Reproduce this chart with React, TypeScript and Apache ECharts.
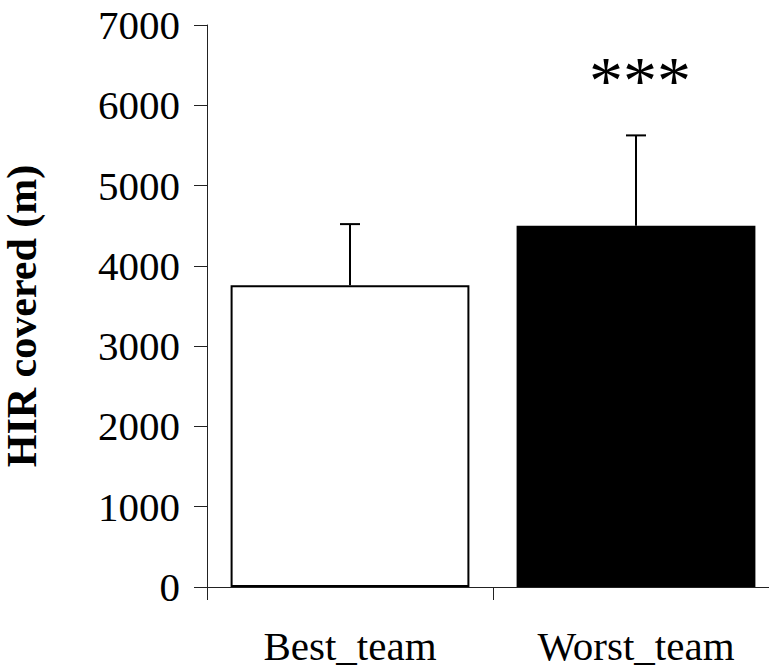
import React, { useEffect, useRef } from "react";
import * as echarts from "echarts";

const categories = ["Best_team", "Worst_team"];
const means = [3760, 4500];
const sds = [760, 1125];
const significance = ["", "***"];
const yTicks = { min: 0, max: 7000, interval: 1000 };
const yAxisTitle = "HIR covered (m)";

const FONT = "Liberation Serif";

export default function App() {
  const ref = useRef<HTMLDivElement>(null);
  useEffect(() => {
    if (!ref.current) return;
    const chart = echarts.init(ref.current, null, { renderer: "svg" });
    const errData = categories.map((c, i) => [i, means[i], means[i] + sds[i]]);
    chart.setOption({
      animation: false,
      backgroundColor: "#ffffff",
      textStyle: { fontFamily: FONT },
      grid: { left: 207, right: -10, top: 25, bottom: 82, containLabel: false, outerBoundsMode: "none" },
      xAxis: {
        type: "category",
        data: categories,
        boundaryGap: true,
        axisLine: { show: true, lineStyle: { color: "#222", width: 1 } },
        axisTick: { show: true, length: 13, inside: false, alignWithLabel: false, lineStyle: { color: "#222", width: 1 } },
        axisLabel: { fontFamily: FONT, fontSize: 41, lineHeight: 38, color: "#000", margin: 40 },
        splitLine: { show: false },
      },
      yAxis: {
        type: "value",
        min: yTicks.min,
        max: yTicks.max,
        interval: yTicks.interval,
        name: yAxisTitle,
        nameLocation: "middle",
        nameGap: 164,
        nameRotate: 90,
        nameTextStyle: { fontFamily: FONT, fontSize: 42, fontWeight: "bold", color: "#000", padding: [0, 20, 0, 0] },
        axisLine: { show: true, lineStyle: { color: "#222", width: 1 } },
        axisTick: { show: true, length: 13, inside: false, lineStyle: { color: "#222", width: 1 } },
        axisLabel: { fontFamily: FONT, fontSize: 41, color: "#000", margin: 27, formatter: (v: number) => String(v) },
        splitLine: { show: false },
      },
      series: [
        {
          type: "bar",
          data: means.map((v, i) => ({
            value: v,
            itemStyle:
              i === 0
                ? { color: "#ffffff", borderColor: "#000", borderWidth: 2 }
                : { color: "#000000", borderColor: "#000", borderWidth: 0 },
          })),
          barCategoryGap: "16.5%",
          z: 2,
        },
        {
          type: "custom",
          data: errData,
          encode: { x: 0, y: [1, 2] },
          z: 3,
          renderItem: (params: any, api: any) => {
            const x = api.value(0);
            const lo = api.coord([x, api.value(1)]);
            const hi = api.coord([x, api.value(2)]);
            const label = significance[params.dataIndex];
            const style = { stroke: "#000", lineWidth: 2 };
            const children: any[] = [
              { type: "line", shape: { x1: lo[0], y1: lo[1], x2: hi[0], y2: hi[1] }, style },
              { type: "line", shape: { x1: hi[0] - 10, y1: hi[1], x2: hi[0] + 10, y2: hi[1] }, style },
            ];
            if (label) {
              children.push({
                type: "text",
                style: {
                  text: label,
                  x: hi[0] + 4,
                  y: hi[1] - 21,
                  align: "center",
                  verticalAlign: "bottom",
                  fontFamily: FONT,
                  fontSize: 68,
                  fill: "#000",
                },
              });
            }
            return { type: "group", children };
          },
        },
      ],
    });
    return () => chart.dispose();
  }, []);
  return <div ref={ref} style={{ position: "fixed", left: 0, top: 0, width: 769, height: 669 }} />;
}
